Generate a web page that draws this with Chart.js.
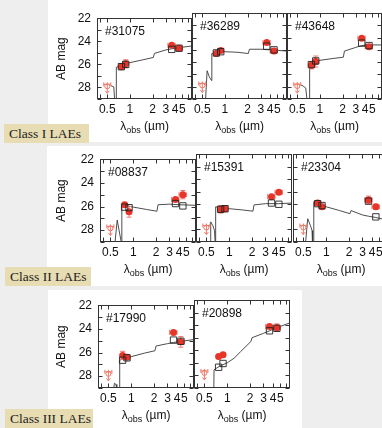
<!DOCTYPE html>
<html>
<head>
<meta charset="utf-8">
<script src="https://cdn.jsdelivr.net/npm/chart.js@4.4.0/dist/chart.umd.min.js"></script>
<style>
  body { margin: 0; width: 382px; height: 428px; overflow: hidden; background: #eeeeee; position: relative; }
  .sheet { position: absolute; background: #ffffff; }
  .tag { position: absolute; background: #e8dcb2; color: #222; font-family: "Liberation Serif", "DejaVu Serif", serif;
         font-size: 13.5px; line-height: 19px; padding-left: 5px; box-sizing: border-box; white-space: nowrap; }
  canvas { position: absolute; }
</style>
</head>
<body>
<script>
// photometric bands (micron): i, z, IRAC 3.6, IRAC 4.5
var bandWave = [0.77, 0.88, 3.6, 4.5];
var bandLo = [0.72, 0.83, 3.2, 4.0];
var bandHi = [0.82, 0.93, 4.0, 5.0];
// upper limit band
var ulWave = 0.5;

var panelIds = ['#31075', '#36289', '#43648', '#08837', '#15391', '#23304', '#17990', '#20898'];
var upperLim = [27.9, 27.9, 27.95, 27.85, 27.85, 27.85, 27.8, 27.8];

// observed magnitudes and errors (same band order as bandWave)
var obsMag = [
  [26.2, 25.95, 24.35, 24.6],
  [25.3, 25.05, 24.4, 25.1],
  [26.25, 25.95, 24.05, 24.75],
  [25.85, 26.45, 25.4, 25.0],
  [26.4, 26.35, 25.4, 25.05],
  [25.9, 26.2, 25.65, 26.2],
  [26.25, 26.4, 24.3, 25.1],
  [26.5, 26.35, 24.1, 24.2]
];
var obsErr = [
  [0.25, 0.35, 0.1, 0.15],
  [0.1, 0.1, 0.1, 0.2],
  [0.3, 0.45, 0.1, 0.1],
  [0.2, 0.45, 0.15, 0.35],
  [0.3, 0.25, 0.12, 0.12],
  [0.12, 0.2, 0.3, 0.2],
  [0.35, 0.15, 0.15, 0.45],
  [0.15, 0.12, 0.15, 0.3]
];
// best-fit model photometry (open squares)
var modelMag = [
  [26.2, 26.0, 24.7, 24.6],
  [25.25, 25.15, 24.7, 25.0],
  [26.2, 25.9, 24.45, 24.65],
  [26.05, 26.1, 25.75, 25.95],
  [26.4, 26.35, 25.9, 26.0],
  [25.95, 26.1, 25.75, 27.0],
  [26.65, 26.45, 24.95, 25.05],
  [27.35, 27.05, 24.45, 24.25]
];
// model spectra [wavelength, mag]
var sedLines = [
  [[0.56, 27.85], [0.61, 27.95], [0.63, 29.3], [0.655, 29.3], [0.66, 26.25], [0.8, 26.05], [1.0, 25.85], [1.5, 25.6],
   [2.05, 25.4], [2.12, 25.05], [3.0, 24.75], [3.6, 24.65], [4.5, 24.55], [6.8, 24.4]],
  [[0.55, 29.3], [0.58, 26.7], [0.62, 27.2], [0.665, 27.5], [0.67, 25.3], [0.8, 25.25], [1.0, 25.15], [1.5, 25.2],
   [2.05, 25.3], [2.12, 24.95], [3.0, 24.95], [4.0, 25.0], [6.8, 25.1]],
  [[0.555, 27.85], [0.6, 27.95], [0.648, 28.1], [0.68, 29.3], [0.725, 29.3], [0.73, 26.1], [0.85, 26.0], [1.0, 25.85],
   [1.5, 25.7], [2.05, 25.6], [2.12, 25.1], [3.0, 24.8], [3.6, 24.65], [4.5, 24.6], [6.8, 24.6]],
  [[0.57, 29.3], [0.615, 27.15], [0.69, 28.9], [0.705, 29.3], [0.71, 25.8], [0.85, 25.95], [1.0, 26.05], [1.5, 26.25],
   [2.05, 26.4], [2.12, 25.85], [3.0, 25.8], [4.0, 25.85], [6.8, 25.9]],
  [[0.56, 29.3], [0.57, 27.4], [0.61, 27.7], [0.64, 28.1], [0.655, 29.3], [0.66, 29.3], [0.665, 26.2], [0.8, 26.3],
   [1.0, 26.35], [1.5, 26.45], [2.05, 26.55], [2.12, 26.05], [3.0, 25.95], [4.5, 25.95], [6.8, 25.9]],
  [[0.53, 29.3], [0.57, 27.15], [0.62, 27.7], [0.65, 28.1], [0.66, 29.3], [0.68, 29.3], [0.685, 25.8], [0.8, 25.95],
   [1.0, 26.2], [1.5, 26.5], [2.05, 26.75], [2.12, 26.5], [3.0, 26.85], [3.6, 26.95], [4.5, 27.05], [6.8, 27.3]],
  [[0.585, 29.2], [0.6, 28.6], [0.63, 28.7], [0.645, 29.2], [0.7, 29.3], [0.705, 26.65], [0.8, 26.5], [1.0, 26.35],
   [1.5, 26.05], [2.05, 25.85], [2.12, 25.45], [3.0, 25.25], [3.6, 25.15], [4.5, 25.05], [6.8, 24.9]],
  [[0.665, 29.3], [0.67, 27.55], [0.8, 27.25], [1.0, 27.0], [1.25, 26.6], [1.5, 26.1], [2.05, 25.3], [2.12, 25.0],
   [3.0, 24.65], [3.6, 24.45], [4.5, 24.2], [6.8, 23.8]]
];

var xTicks = [0.4, 0.5, 1, 2, 3, 4, 5, 6];
var xLabels = [0.5, 1, 2, 3, 4, 5];
var yTicks = [22, 23, 24, 25, 26, 27, 28, 29];
var yLabels = [22, 24, 26, 28];
var classLabels = ['Class I LAEs', 'Class II LAEs', 'Class III LAEs'];

// page layout (pixels)
var sheets = [[48, 0, 334, 142], [47, 146, 335, 140], [48, 290, 254, 138]];
var tags = [[4, 124, 85, 19], [5, 267, 86, 19], [5, 409, 88, 19]];
var rows = [
  {top: 13, h: 86, w: 95, lefts: [97, 192, 287], first: 0},
  {top: 154, h: 88, w: 96, lefts: [100, 196, 293], first: 3},
  {top: 300, h: 88, w: 96, lefts: [98, 194], first: 6}
];

var FONT = '"Liberation Sans", Arial, sans-serif';
Chart.defaults.font.family = FONT;
Chart.defaults.font.size = 12;
Chart.defaults.color = '#111';

sheets.forEach(function(s) {
  var d = document.createElement('div');
  d.className = 'sheet';
  d.style.cssText = 'left:' + s[0] + 'px;top:' + s[1] + 'px;width:' + s[2] + 'px;height:' + s[3] + 'px';
  document.body.appendChild(d);
});
tags.forEach(function(t, i) {
  var d = document.createElement('div');
  d.className = 'tag';
  d.style.cssText = 'left:' + t[0] + 'px;top:' + t[1] + 'px;width:' + t[2] + 'px;height:' + t[3] + 'px';
  d.textContent = classLabels[i];
  document.body.appendChild(d);
});

// error bars and upper-limit arrows, drawn right before their dataset
var errorBars = {
  id: 'errorBars',
  beforeDatasetDraw: function(chart, args) {
    var ds = chart.data.datasets[args.index];
    if (!ds.yErr && !ds.upper) return;
    var xs = chart.scales.x, ys = chart.scales.y, ctx = chart.ctx;
    ctx.save();
    ctx.strokeStyle = ds.barColor;
    ctx.lineWidth = 1;
    ctx.beginPath();
    ds.data.forEach(function(p, i) {
      var x = xs.getPixelForValue(p.x), y = ys.getPixelForValue(p.y);
      if (ds.yErr) {
        var y1 = ys.getPixelForValue(p.y - ds.yErr[i]), y2 = ys.getPixelForValue(p.y + ds.yErr[i]);
        var x1 = xs.getPixelForValue(ds.xLo[i]), x2 = xs.getPixelForValue(ds.xHi[i]);
        ctx.moveTo(x, y1); ctx.lineTo(x, y2);
        ctx.moveTo(x - 2.5, y1); ctx.lineTo(x + 2.5, y1);
        ctx.moveTo(x - 2.5, y2); ctx.lineTo(x + 2.5, y2);
        ctx.moveTo(x1, y); ctx.lineTo(x2, y);
        ctx.moveTo(x1, y - 2.5); ctx.lineTo(x1, y + 2.5);
        ctx.moveTo(x2, y - 2.5); ctx.lineTo(x2, y + 2.5);
      } else {
        ctx.moveTo(x - 3.5, y - 2); ctx.lineTo(x + 3.5, y - 2);
        ctx.moveTo(x - 3.5, y - 4); ctx.lineTo(x - 3.5, y);
        ctx.moveTo(x + 3.5, y - 4); ctx.lineTo(x + 3.5, y);
        ctx.moveTo(x, y - 4); ctx.lineTo(x, y + 7);
        ctx.moveTo(x - 2, y + 4.5); ctx.lineTo(x, y + 7); ctx.lineTo(x + 2, y + 4.5);
      }
    });
    ctx.stroke();
    ctx.restore();
  }
};

// box frame with inward ticks, panel id and x axis title
var frame = {
  id: 'frame',
  afterDraw: function(chart, args, opts) {
    var a = chart.chartArea, ctx = chart.ctx;
    var xs = chart.scales.x, ys = chart.scales.y;
    var l = Math.round(a.left) + 0.5, r = Math.round(a.right) - 0.5;
    var t = Math.round(a.top) + 0.5, b = Math.round(a.bottom) - 0.5;
    ctx.save();
    ctx.strokeStyle = '#333';
    ctx.lineWidth = 1;
    ctx.strokeRect(l, t, r - l, b - t);
    ctx.beginPath();
    yTicks.forEach(function(v) {
      var y = Math.round(ys.getPixelForValue(v)) + 0.5;
      ctx.moveTo(l, y); ctx.lineTo(l + 4, y);
      ctx.moveTo(r, y); ctx.lineTo(r - 4, y);
    });
    xTicks.forEach(function(v) {
      var x = Math.round(xs.getPixelForValue(v)) + 0.5;
      ctx.moveTo(x, b); ctx.lineTo(x, b - 4);
      ctx.moveTo(x, t); ctx.lineTo(x, t + 4);
    });
    ctx.stroke();

    ctx.fillStyle = '#111';
    ctx.font = '12px ' + FONT;
    ctx.textBaseline = 'alphabetic';
    ctx.textAlign = 'left';
    ctx.fillText(opts.name, a.left + 8, a.top + 17);

    // lambda_obs (um)
    var big = '12px ' + FONT, small = '9px ' + FONT;
    ctx.font = big; var w1 = ctx.measureText('\u03bb').width;
    ctx.font = small; var w2 = ctx.measureText('obs').width;
    ctx.font = big; var w3 = ctx.measureText(' (\u00b5m)').width;
    var x0 = (a.left + a.right) / 2 - (w1 + w2 + w3) / 2, yb = a.bottom + 31;
    ctx.font = big; ctx.fillText('\u03bb', x0, yb);
    ctx.font = small; ctx.fillText('obs', x0 + w1, yb + 3);
    ctx.font = big; ctx.fillText(' (\u00b5m)', x0 + w1 + w2, yb);
    ctx.restore();
  }
};

function makePanel(k, left, top, w, h, showY) {
  var padL = showY ? left - 52 : 2, padT = 8, padR = 3, bottomH = 40;
  var cw = padL + w + padR, ch = padT + h + bottomH;
  var cv = document.createElement('canvas');
  cv.width = cw; cv.height = ch;
  cv.style.cssText = 'left:' + (left - padL) + 'px;top:' + (top - padT) + 'px;width:' + cw + 'px;height:' + ch + 'px';
  document.body.appendChild(cv);

  var obsPts = bandWave.map(function(x, i) { return {x: x, y: obsMag[k][i]}; });
  var modPts = bandWave.map(function(x, i) { return {x: x, y: modelMag[k][i]}; });
  var sedPts = sedLines[k].map(function(p) { return {x: p[0], y: p[1]}; });

  new Chart(cv, {
    type: 'scatter',
    data: {
      datasets: [
        {type: 'line', data: sedPts, borderColor: '#3a3a3a', borderWidth: 0.9, pointRadius: 0, fill: false, order: 3},
        {data: [{x: ulWave, y: upperLim[k]}], upper: true, barColor: '#f07868', pointStyle: 'circle', pointRadius: 2.5,
         borderColor: '#f07868', borderWidth: 1, backgroundColor: 'rgba(255,255,255,0)', order: 2},
        {data: obsPts, yErr: obsErr[k], xLo: bandLo, xHi: bandHi, barColor: '#f07a6e', pointStyle: 'circle',
         pointRadius: 3.5, backgroundColor: '#e8352a', borderColor: '#e8352a', borderWidth: 0, order: 1},
        {data: modPts, pointStyle: 'rect', pointRadius: 4.5, backgroundColor: 'rgba(255,255,255,0)',
         borderColor: '#222', borderWidth: 0.9, order: 0}
      ]
    },
    options: {
      responsive: false,
      animation: false,
      layout: {autoPadding: false, padding: {left: showY ? 0 : padL, right: padR, top: padT, bottom: 0}},
      plugins: {legend: {display: false}, tooltip: {enabled: false}, frame: {name: panelIds[k]}},
      scales: {
        x: {
          type: 'logarithmic', min: 0.365, max: 6.7,
          grid: {display: false, drawTicks: false}, border: {display: false},
          afterBuildTicks: function(s) { s.ticks = xTicks.map(function(v) { return {value: v}; }); },
          afterFit: function(s) { s.height = bottomH; },
          ticks: {autoSkip: false, maxRotation: 0, minRotation: 0, padding: 3, color: '#111',
                  callback: function(v) { return xLabels.indexOf(v) >= 0 ? String(v) : ''; }}
        },
        y: {
          type: 'linear', min: 22, max: 29, reverse: true, display: showY,
          grid: {display: false, drawTicks: false}, border: {display: false},
          afterBuildTicks: function(s) { s.ticks = yTicks.map(function(v) { return {value: v}; }); },
          afterFit: function(s) { s.width = showY ? padL : 0; },
          title: {display: true, text: 'AB mag', padding: {top: 2, bottom: 0}, color: '#111', font: {size: 12}},
          ticks: {autoSkip: false, padding: 6, color: '#111',
                  callback: function(v) { return yLabels.indexOf(v) >= 0 ? String(v) : ''; }}
        }
      }
    },
    plugins: [errorBars, frame]
  });
}

rows.forEach(function(row) {
  row.lefts.forEach(function(left, j) {
    makePanel(row.first + j, left, row.top, row.w, row.h, j === 0);
  });
});
</script>
</body>
</html>
